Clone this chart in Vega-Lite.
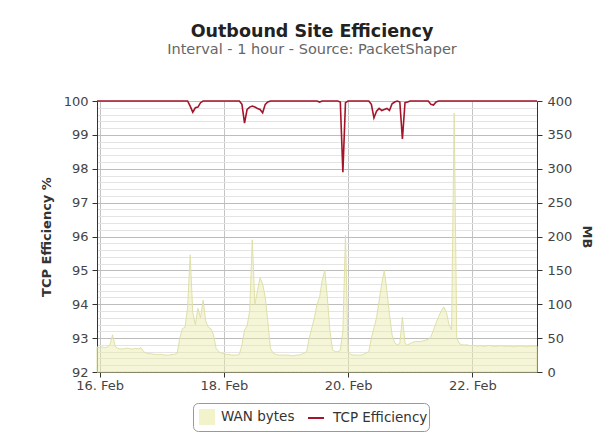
{
  "$schema": "https://vega.github.io/schema/vega-lite/v6.json",
  "width": 440,
  "height": 271,
  "autosize": {"type": "none"},
  "padding": {"left": 97, "top": 101, "right": 73, "bottom": 74},
  "background": "white",
  "title": {
    "text": "Outbound Site Efficiency",
    "subtitle": "Interval - 1 hour - Source: PacketShaper",
    "anchor": "middle",
    "frame": "group",
    "dx": -5,
    "offset": 39,
    "font": "DejaVu Sans",
    "fontSize": 17.5,
    "fontWeight": "bold",
    "color": "#222222",
    "subtitleFont": "DejaVu Sans",
    "subtitleFontSize": 14.5,
    "subtitleColor": "#666666",
    "subtitlePadding": 2
  },
  "data": {
    "values": [
      {"t": "2013-02-15T23:00", "w": 37, "e": 100},
      {"t": "2013-02-16T00:00", "w": 36, "e": 100},
      {"t": "2013-02-16T01:00", "w": 37, "e": 100},
      {"t": "2013-02-16T02:00", "w": 36, "e": 100},
      {"t": "2013-02-16T03:00", "w": 37, "e": 100},
      {"t": "2013-02-16T04:00", "w": 40, "e": 100},
      {"t": "2013-02-16T05:00", "w": 55, "e": 100},
      {"t": "2013-02-16T06:00", "w": 38, "e": 100},
      {"t": "2013-02-16T07:00", "w": 35, "e": 100},
      {"t": "2013-02-16T08:00", "w": 34, "e": 100},
      {"t": "2013-02-16T09:00", "w": 34, "e": 100},
      {"t": "2013-02-16T10:00", "w": 35, "e": 100},
      {"t": "2013-02-16T11:00", "w": 35, "e": 100},
      {"t": "2013-02-16T12:00", "w": 34, "e": 100},
      {"t": "2013-02-16T13:00", "w": 34, "e": 100},
      {"t": "2013-02-16T14:00", "w": 35, "e": 100},
      {"t": "2013-02-16T15:00", "w": 34, "e": 100},
      {"t": "2013-02-16T16:00", "w": 36, "e": 100},
      {"t": "2013-02-16T17:00", "w": 30, "e": 100},
      {"t": "2013-02-16T18:00", "w": 28, "e": 100},
      {"t": "2013-02-16T19:00", "w": 27, "e": 100},
      {"t": "2013-02-16T20:00", "w": 27, "e": 100},
      {"t": "2013-02-16T21:00", "w": 26, "e": 100},
      {"t": "2013-02-16T22:00", "w": 26, "e": 100},
      {"t": "2013-02-16T23:00", "w": 26, "e": 100},
      {"t": "2013-02-17T00:00", "w": 26, "e": 100},
      {"t": "2013-02-17T01:00", "w": 25, "e": 100},
      {"t": "2013-02-17T02:00", "w": 25, "e": 100},
      {"t": "2013-02-17T03:00", "w": 25, "e": 100},
      {"t": "2013-02-17T04:00", "w": 26, "e": 100},
      {"t": "2013-02-17T05:00", "w": 26, "e": 100},
      {"t": "2013-02-17T06:00", "w": 28, "e": 100},
      {"t": "2013-02-17T07:00", "w": 50, "e": 100},
      {"t": "2013-02-17T08:00", "w": 64, "e": 100},
      {"t": "2013-02-17T09:00", "w": 66, "e": 100},
      {"t": "2013-02-17T10:00", "w": 95, "e": 100},
      {"t": "2013-02-17T11:00", "w": 173, "e": 99.85},
      {"t": "2013-02-17T12:00", "w": 88, "e": 99.67},
      {"t": "2013-02-17T13:00", "w": 70, "e": 99.8},
      {"t": "2013-02-17T14:00", "w": 94, "e": 99.82},
      {"t": "2013-02-17T15:00", "w": 80, "e": 99.95},
      {"t": "2013-02-17T16:00", "w": 106, "e": 100},
      {"t": "2013-02-17T17:00", "w": 75, "e": 100},
      {"t": "2013-02-17T18:00", "w": 66, "e": 100},
      {"t": "2013-02-17T19:00", "w": 64, "e": 100},
      {"t": "2013-02-17T20:00", "w": 55, "e": 100},
      {"t": "2013-02-17T21:00", "w": 35, "e": 100},
      {"t": "2013-02-17T22:00", "w": 30, "e": 100},
      {"t": "2013-02-17T23:00", "w": 28, "e": 100},
      {"t": "2013-02-18T00:00", "w": 27, "e": 100},
      {"t": "2013-02-18T01:00", "w": 26, "e": 100},
      {"t": "2013-02-18T02:00", "w": 26, "e": 100},
      {"t": "2013-02-18T03:00", "w": 25, "e": 100},
      {"t": "2013-02-18T04:00", "w": 25, "e": 100},
      {"t": "2013-02-18T05:00", "w": 25, "e": 100},
      {"t": "2013-02-18T06:00", "w": 26, "e": 100},
      {"t": "2013-02-18T07:00", "w": 40, "e": 99.9},
      {"t": "2013-02-18T08:00", "w": 62, "e": 99.35},
      {"t": "2013-02-18T09:00", "w": 68, "e": 99.75},
      {"t": "2013-02-18T10:00", "w": 90, "e": 99.82},
      {"t": "2013-02-18T11:00", "w": 195, "e": 99.85},
      {"t": "2013-02-18T12:00", "w": 100, "e": 99.82},
      {"t": "2013-02-18T13:00", "w": 120, "e": 99.78},
      {"t": "2013-02-18T14:00", "w": 139, "e": 99.75},
      {"t": "2013-02-18T15:00", "w": 130, "e": 99.65},
      {"t": "2013-02-18T16:00", "w": 110, "e": 99.9},
      {"t": "2013-02-18T17:00", "w": 75, "e": 99.97},
      {"t": "2013-02-18T18:00", "w": 35, "e": 100},
      {"t": "2013-02-18T19:00", "w": 28, "e": 100},
      {"t": "2013-02-18T20:00", "w": 26, "e": 100},
      {"t": "2013-02-18T21:00", "w": 25, "e": 100},
      {"t": "2013-02-18T22:00", "w": 25, "e": 100},
      {"t": "2013-02-18T23:00", "w": 25, "e": 100},
      {"t": "2013-02-19T00:00", "w": 25, "e": 100},
      {"t": "2013-02-19T01:00", "w": 25, "e": 100},
      {"t": "2013-02-19T02:00", "w": 24, "e": 100},
      {"t": "2013-02-19T03:00", "w": 24, "e": 100},
      {"t": "2013-02-19T04:00", "w": 25, "e": 100},
      {"t": "2013-02-19T05:00", "w": 25, "e": 100},
      {"t": "2013-02-19T06:00", "w": 26, "e": 100},
      {"t": "2013-02-19T07:00", "w": 28, "e": 100},
      {"t": "2013-02-19T08:00", "w": 30, "e": 100},
      {"t": "2013-02-19T09:00", "w": 50, "e": 100},
      {"t": "2013-02-19T10:00", "w": 65, "e": 100},
      {"t": "2013-02-19T11:00", "w": 80, "e": 100},
      {"t": "2013-02-19T12:00", "w": 100, "e": 100},
      {"t": "2013-02-19T13:00", "w": 110, "e": 99.97},
      {"t": "2013-02-19T14:00", "w": 135, "e": 100},
      {"t": "2013-02-19T15:00", "w": 150, "e": 100},
      {"t": "2013-02-19T16:00", "w": 110, "e": 100},
      {"t": "2013-02-19T17:00", "w": 60, "e": 100},
      {"t": "2013-02-19T18:00", "w": 33, "e": 100},
      {"t": "2013-02-19T19:00", "w": 30, "e": 100},
      {"t": "2013-02-19T20:00", "w": 30, "e": 100},
      {"t": "2013-02-19T21:00", "w": 32, "e": 99.97},
      {"t": "2013-02-19T22:00", "w": 60, "e": 97.9},
      {"t": "2013-02-19T23:00", "w": 202, "e": 99.95},
      {"t": "2013-02-20T00:00", "w": 30, "e": 100},
      {"t": "2013-02-20T01:00", "w": 26, "e": 100},
      {"t": "2013-02-20T02:00", "w": 25, "e": 100},
      {"t": "2013-02-20T03:00", "w": 25, "e": 100},
      {"t": "2013-02-20T04:00", "w": 25, "e": 100},
      {"t": "2013-02-20T05:00", "w": 25, "e": 100},
      {"t": "2013-02-20T06:00", "w": 26, "e": 100},
      {"t": "2013-02-20T07:00", "w": 28, "e": 100},
      {"t": "2013-02-20T08:00", "w": 30, "e": 100},
      {"t": "2013-02-20T09:00", "w": 50, "e": 99.9},
      {"t": "2013-02-20T10:00", "w": 65, "e": 99.5},
      {"t": "2013-02-20T11:00", "w": 80, "e": 99.7},
      {"t": "2013-02-20T12:00", "w": 105, "e": 99.78},
      {"t": "2013-02-20T13:00", "w": 130, "e": 99.72},
      {"t": "2013-02-20T14:00", "w": 150, "e": 99.75},
      {"t": "2013-02-20T15:00", "w": 120, "e": 99.78},
      {"t": "2013-02-20T16:00", "w": 85, "e": 99.72},
      {"t": "2013-02-20T17:00", "w": 55, "e": 99.92},
      {"t": "2013-02-20T18:00", "w": 43, "e": 99.97},
      {"t": "2013-02-20T19:00", "w": 40, "e": 100},
      {"t": "2013-02-20T20:00", "w": 42, "e": 99.97},
      {"t": "2013-02-20T21:00", "w": 81, "e": 98.88},
      {"t": "2013-02-20T22:00", "w": 42, "e": 99.95},
      {"t": "2013-02-20T23:00", "w": 40, "e": 99.97},
      {"t": "2013-02-21T00:00", "w": 42, "e": 100},
      {"t": "2013-02-21T01:00", "w": 44, "e": 100},
      {"t": "2013-02-21T02:00", "w": 45, "e": 100},
      {"t": "2013-02-21T03:00", "w": 45, "e": 100},
      {"t": "2013-02-21T04:00", "w": 45, "e": 100},
      {"t": "2013-02-21T05:00", "w": 46, "e": 100},
      {"t": "2013-02-21T06:00", "w": 47, "e": 100},
      {"t": "2013-02-21T07:00", "w": 48, "e": 100},
      {"t": "2013-02-21T08:00", "w": 52, "e": 99.9},
      {"t": "2013-02-21T09:00", "w": 62, "e": 99.88},
      {"t": "2013-02-21T10:00", "w": 72, "e": 99.97},
      {"t": "2013-02-21T11:00", "w": 82, "e": 100},
      {"t": "2013-02-21T12:00", "w": 90, "e": 100},
      {"t": "2013-02-21T13:00", "w": 96, "e": 100},
      {"t": "2013-02-21T14:00", "w": 88, "e": 100},
      {"t": "2013-02-21T15:00", "w": 70, "e": 100},
      {"t": "2013-02-21T16:00", "w": 62, "e": 100},
      {"t": "2013-02-21T17:00", "w": 382, "e": 100},
      {"t": "2013-02-21T18:00", "w": 50, "e": 100},
      {"t": "2013-02-21T19:00", "w": 42, "e": 100},
      {"t": "2013-02-21T20:00", "w": 40, "e": 100},
      {"t": "2013-02-21T21:00", "w": 40, "e": 100},
      {"t": "2013-02-21T22:00", "w": 40, "e": 100},
      {"t": "2013-02-21T23:00", "w": 39, "e": 100},
      {"t": "2013-02-22T00:00", "w": 39, "e": 100},
      {"t": "2013-02-22T01:00", "w": 39, "e": 100},
      {"t": "2013-02-22T02:00", "w": 38, "e": 100},
      {"t": "2013-02-22T03:00", "w": 39, "e": 100},
      {"t": "2013-02-22T04:00", "w": 38, "e": 100},
      {"t": "2013-02-22T05:00", "w": 38, "e": 100},
      {"t": "2013-02-22T06:00", "w": 39, "e": 100},
      {"t": "2013-02-22T07:00", "w": 39, "e": 100},
      {"t": "2013-02-22T08:00", "w": 38, "e": 100},
      {"t": "2013-02-22T09:00", "w": 38, "e": 100},
      {"t": "2013-02-22T10:00", "w": 38, "e": 100},
      {"t": "2013-02-22T11:00", "w": 39, "e": 100},
      {"t": "2013-02-22T12:00", "w": 38, "e": 100},
      {"t": "2013-02-22T13:00", "w": 38, "e": 100},
      {"t": "2013-02-22T14:00", "w": 38, "e": 100},
      {"t": "2013-02-22T15:00", "w": 38, "e": 100},
      {"t": "2013-02-22T16:00", "w": 37, "e": 100},
      {"t": "2013-02-22T17:00", "w": 38, "e": 100},
      {"t": "2013-02-22T18:00", "w": 38, "e": 100},
      {"t": "2013-02-22T19:00", "w": 38, "e": 100},
      {"t": "2013-02-22T20:00", "w": 38, "e": 100},
      {"t": "2013-02-22T21:00", "w": 37, "e": 100},
      {"t": "2013-02-22T22:00", "w": 38, "e": 100},
      {"t": "2013-02-22T23:00", "w": 38, "e": 100},
      {"t": "2013-02-23T00:00", "w": 38, "e": 100},
      {"t": "2013-02-23T01:00", "w": 38, "e": 100}
    ]
  },
  "encoding": {
    "x": {
      "field": "t",
      "type": "temporal",
      "scale": {
        "domain": [
          {"year": 2013, "month": 2, "date": 15, "hours": 23},
          {"year": 2013, "month": 2, "date": 23, "hours": 1}
        ],
        "nice": false
      },
      "axis": {
        "title": null,
        "values": [
          {"year": 2013, "month": 2, "date": 16},
          {"year": 2013, "month": 2, "date": 18},
          {"year": 2013, "month": 2, "date": 20},
          {"year": 2013, "month": 2, "date": 22}
        ],
        "format": "%d. %b",
        "grid": true,
        "gridColor": "#c4c4c4",
        "tickSize": 5,
        "labelPadding": 2,
        "labelFlush": false,
        "labelOverlap": false
      }
    }
  },
  "layer": [
    {
      "mark": {"type": "area", "fillOpacity": 0.45, "stroke": "#dfe0a8", "strokeWidth": 1},
      "encoding": {
        "y": {
          "field": "w",
          "type": "quantitative",
          "scale": {"domain": [0, 400], "nice": false},
          "axis": {
            "orient": "right",
            "title": "MB",
            "values": [0, 50, 100, 150, 200, 250, 300, 350, 400],
            "grid": false,
            "tickSize": 5,
            "labelPadding": 5,
            "titlePadding": 8
          }
        },
        "fill": {
          "datum": "WAN bytes",
          "type": "nominal",
          "scale": {"domain": ["WAN bytes"], "range": ["#e9eba6"]},
          "legend": {
            "title": null,
            "orient": "none",
            "direction": "horizontal",
            "legendX": 96,
            "legendY": 302,
            "padding": 6,
            "strokeColor": "#999999",
            "cornerRadius": 5,
            "fillColor": "#ffffff",
            "labelFont": "DejaVu Sans",
            "labelFontSize": 13.5,
            "labelColor": "#333333",
            "labelOffset": 6,
            "labelLimit": 400,
            "labelExpr": "datum.label + '\u2800\u2800\u2800\u2800\u2800\u2800\u2800\u2800\u2800\u2800\u2800\u2800\u2800'",
            "symbolSize": 256,
            "symbolType": "square",
            "symbolOpacity": 0.6,
            "symbolStrokeWidth": 0
          }
        }
      }
    },
    {
      "mark": {"type": "line", "strokeWidth": 1.6},
      "encoding": {
        "y": {
          "field": "e",
          "type": "quantitative",
          "scale": {"domain": [92, 100], "nice": false, "zero": false},
          "axis": {
            "orient": "left",
            "title": "TCP Efficiency %",
            "values": [92, 92.2, 92.4, 92.6, 92.8, 93, 93.2, 93.4, 93.6, 93.8, 94, 94.2, 94.4, 94.6, 94.8, 95, 95.2, 95.4, 95.6, 95.8, 96, 96.2, 96.4, 96.6, 96.8, 97, 97.2, 97.4, 97.6, 97.8, 98, 98.2, 98.4, 98.6, 98.8, 99, 99.2, 99.4, 99.6, 99.8, 100],
            "grid": true,
            "gridColor": {"condition": {"test": "abs(datum.value - round(datum.value)) < 0.01", "value": "#bdbdbd"}, "value": "#e4e4e4"},
            "tickColor": {"condition": {"test": "abs(datum.value - round(datum.value)) < 0.01", "value": "#333333"}, "value": "transparent"},
            "labelExpr": "abs(datum.value - round(datum.value)) < 0.01 ? format(datum.value, 'd') : ''",
            "labelOverlap": false,
            "tickSize": 5,
            "labelPadding": 4,
            "titlePadding": 10
          }
        },
        "stroke": {
          "datum": "TCP Efficiency",
          "type": "nominal",
          "scale": {"domain": ["TCP Efficiency"], "range": ["#a3152a"]},
          "legend": {
            "title": null,
            "orient": "none",
            "direction": "horizontal",
            "legendX": 204,
            "legendY": 302,
            "padding": 6,
            "strokeColor": null,
            "labelFont": "DejaVu Sans",
            "labelFontSize": 13.5,
            "labelColor": "#333333",
            "labelOffset": 8,
            "symbolSize": 256,
            "symbolType": "stroke",
            "symbolStrokeWidth": 2,
            "symbolOpacity": 1
          }
        }
      }
    }
  ],
  "resolve": {"scale": {"y": "independent"}},
  "config": {
    "view": {"stroke": null},
    "axis": {
      "domainColor": "#333333",
      "tickColor": "#333333",
      "labelFont": "DejaVu Sans",
      "labelFontSize": 13,
      "labelColor": "#444444",
      "titleFont": "DejaVu Sans",
      "titleFontSize": 13,
      "titleFontWeight": "bold",
      "titleColor": "#333333"
    }
  }
}
